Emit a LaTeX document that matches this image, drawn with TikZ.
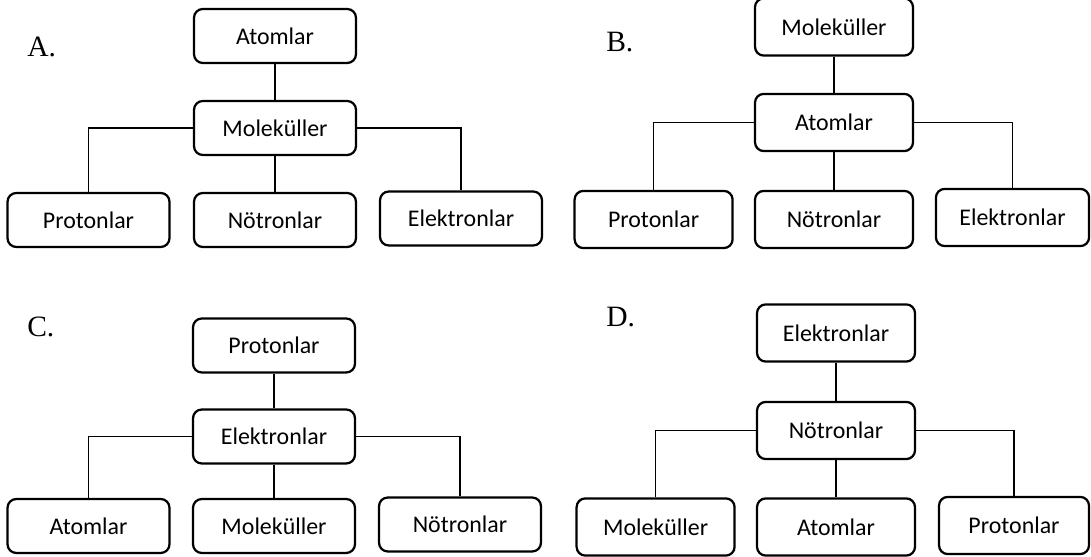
\documentclass[tikz,border=0pt]{standalone}
\usepackage{fontspec}
\setmainfont{Carlito}
\newfontfamily\choicefont{Liberation Serif}
\usepackage{tikz}
\tikzset{
	box/.style={draw, line width=1.6pt, rounded corners=0.22cm, minimum width=4.05cm, minimum height=1.35cm, font=\fontsize{17}{20}\selectfont},
	tallbox/.style={box, minimum width=3.95cm, minimum height=1.43cm},
	link/.style={line width=0.8pt},
	choice/.style={anchor=base west, inner sep=0pt, font=\choicefont\fontsize{21}{24}\selectfont}
}

\begin{document}
\begin{tikzpicture}
			%%%%% START %%%%%
			\useasboundingbox (0, 0) rectangle (27.275, 13.925);
			
			% A
			\node[choice] (labA) at (0.675, 12.5) {A.};
			\node[box] (atomA) at (6.875, 13.025) {Atomlar};
			\node[box] (molA) at (6.875, 10.725) {Moleküller};
			\node[box] (proA) at (2.2125, 8.425) {Protonlar};
			\node[box] (notA) at (6.875, 8.425) {Nötronlar};
			\node[box] (eleA) at (11.525, 8.4625) {Elektronlar};
			\draw[link] (atomA) -- (molA);
			\draw[link] (molA.west) -| (proA);
			\draw[link] (molA) -- (notA);
			\draw[link] (molA.east) -| (eleA);
			
			% B
			\node[choice] (labB) at (15.15, 12.625) {B.};
			\node[tallbox] (molB) at (20.85, 13.25) {Moleküller};
			\node[tallbox] (atomB) at (20.85, 10.8625) {Atomlar};
			\node[tallbox] (proB) at (16.34, 8.4375) {Protonlar};
			\node[tallbox] (notB) at (20.85, 8.4375) {Nötronlar};
			\node[tallbox, minimum width=3.83cm] (eleB) at (25.3125, 8.4875) {Elektronlar};
			\draw[link] (molB) -- (atomB);
			\draw[link] (atomB.west) -| (proB);
			\draw[link] (atomB) -- (notB);
			\draw[link] (atomB.east) -| (eleB);
			
			% C
			\node[choice] (labC) at (0.675, 5.5) {C.};
			\node[box] (proC) at (6.85, 5.2875) {Protonlar};
			\node[box] (eleC) at (6.85, 3.0125) {Elektronlar};
			\node[box] (atomC) at (2.2125, 0.775) {Atomlar};
			\node[box] (molC) at (6.85, 0.775) {Moleküller};
			\node[box] (notC) at (11.5, 0.8125) {Nötronlar};
			\draw[link] (proC) -- (eleC);
			\draw[link] (eleC.west) -| (atomC);
			\draw[link] (eleC) -- (molC);
			\draw[link] (eleC.east) -| (notC);
			
			% D
			\node[choice] (labD) at (15.15, 5.75) {D.};
			\node[tallbox] (eleD) at (20.9, 5.6) {Elektronlar};
			\node[tallbox] (notD) at (20.9, 3.1625) {Nötronlar};
			\node[tallbox] (molD) at (16.39, 0.75) {Moleküller};
			\node[tallbox] (atomD) at (20.9, 0.75) {Atomlar};
			\node[tallbox, minimum width=3.75cm] (proD) at (25.35, 0.7875) {Protonlar};
			\draw[link] (eleD) -- (notD);
			\draw[link] (notD.west) -| (molD);
			\draw[link] (notD) -- (atomD);
			\draw[link] (notD.east) -| (proD);
			%%%%% END %%%%%
\end{tikzpicture}
\end{document}
